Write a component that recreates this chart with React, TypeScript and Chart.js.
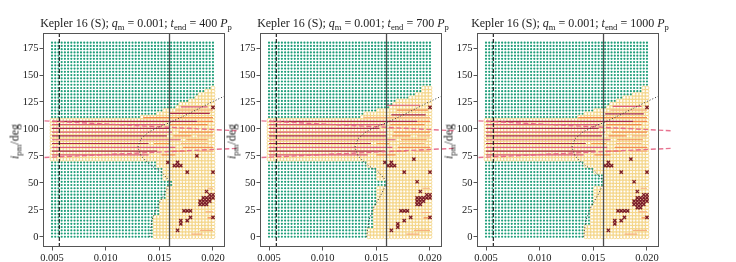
import React, { useEffect, useRef } from "react";
import { Chart, registerables } from "chart.js";
Chart.register(...registerables);

// ---------------- data ----------------
const tEndValues = [400, 700, 1000];
const xTickValues = [0.005, 0.01, 0.015, 0.02];
const yTickValues = [0, 25, 50, 75, 100, 125, 150, 175];
const xRange = [0.00416, 0.02112];
const yRange = [-9.5, 189];

// simulation grid (semi-major axis a_pm, inclination i_pm): [from, to, step]
const gridA = [0.005, 0.02, 0.0003];
const gridI = [0, 180, 3];

// vertical reference lines
const innerLimit = 0.00568;
const outerLimit = 0.01595;

// dotted critical curve
const critCurve = [
  [0.0141, 0], [0.0143, 15], [0.0148, 28], [0.0155, 40], [0.016, 51], [0.0152, 60],
  [0.0141, 67], [0.0133, 75], [0.013, 83], [0.0133, 91], [0.014, 97], [0.015, 102],
  [0.016, 106], [0.0175, 113], [0.019, 120.5], [0.02, 125.5], [0.0211, 130.5],
];

// tilted dashed lines
const tiltedLines = [
  [[0.0043, 107.5], [0.0222, 98.3]],
  [[0.0043, 73.5], [0.0222, 82]],
];

// stable (green) region per inclination band: [i upper bound, largest stable a]
const p1Green = [
  [18, 0.0144], [33, 0.0151], [45, 0.0156], [53, 0.0161], [65, 0.0153], [70, 0.0146], [109, 0],
  [111, 0.0131], [113, 0.0134], [116, 0.0146], [118, 0.0153], [121, 0.0166], [123, 0.0169],
  [126, 0.0176], [128, 0.0179], [131, 0.0183], [133, 0.0186], [136, 0.0191], [139, 0.0198], [181, 1],
];
const p2Green = [
  [8, 0.0141], [28, 0.0148], [45, 0.0151], [53, 0.0158], [65, 0.0151], [70, 0.0141], [109, 0],
  [113, 0.0136], [116, 0.0139], [118, 0.0151], [121, 0.0161], [123, 0.0164], [126, 0.0169],
  [128, 0.0171], [131, 0.0181], [133, 0.0186], [139, 0.0191], [181, 1],
];
const p3Green = [
  [10, 0.0141], [28, 0.0148], [45, 0.0151], [58, 0.0158], [65, 0.0151], [70, 0.0141], [109, 0],
  [111, 0.0134], [113, 0.0136], [116, 0.0141], [118, 0.0151], [121, 0.0161], [123, 0.0166],
  [126, 0.0171], [131, 0.0178], [133, 0.0186], [139, 0.0196], [181, 1],
];

// ejected / collided cases
const p1Cross = [
  [0.02, 120], [0.0185, 75], [0.0158, 69], [0.0167, 69], [0.0164, 66], [0.0167, 66], [0.017, 66],
  [0.0176, 60], [0.02, 60], [0.0194, 42],
  [0.0197, 39], [0.02, 39], [0.0191, 36], [0.0194, 36], [0.0197, 36], [0.02, 36],
  [0.0188, 33], [0.0191, 33], [0.0194, 33], [0.0197, 33], [0.0188, 30], [0.0191, 30], [0.0194, 30],
  [0.0173, 24], [0.0176, 24], [0.0179, 24], [0.0179, 18], [0.02, 18], [0.0176, 15], [0.017, 15], [0.017, 12],
  [0.0167, 6],
];
const p2Cross = [
  [0.02, 120], [0.0185, 72], [0.0158, 69], [0.0164, 69], [0.0161, 66], [0.0164, 66], [0.0167, 66],
  [0.0176, 60], [0.02, 60], [0.0188, 51], [0.0191, 42],
  [0.0197, 39], [0.02, 39], [0.0188, 36], [0.0191, 36], [0.0194, 36], [0.0197, 36], [0.02, 36],
  [0.0188, 33], [0.0191, 33], [0.0194, 33], [0.0188, 30], [0.0191, 30],
  [0.0173, 24], [0.0176, 24], [0.0179, 24], [0.0182, 18], [0.02, 18], [0.0176, 15], [0.017, 12], [0.017, 9],
  [0.0164, 6],
];
const p3Cross = [
  [0.02, 120], [0.0185, 72], [0.0164, 69], [0.0161, 66], [0.0164, 66], [0.0167, 66],
  [0.0176, 60], [0.02, 60], [0.0188, 51], [0.0191, 42],
  [0.0197, 39], [0.02, 39], [0.0191, 36], [0.0194, 36], [0.0197, 36], [0.02, 36],
  [0.0188, 33], [0.0191, 33], [0.0194, 33], [0.0197, 33], [0.02, 33],
  [0.0188, 30], [0.0191, 30], [0.0194, 30], [0.0197, 30], [0.0191, 27], [0.0194, 27],
  [0.0173, 24], [0.0176, 24], [0.0179, 24], [0.0182, 24], [0.0179, 18], [0.02, 18], [0.0176, 15],
  [0.017, 15], [0.017, 12], [0.0164, 6],
];

// horizontal tracks: [i, aFrom, aTo, colour index]
const p1Tracks = [
  [107, 0.005, 0.0185, 0], [107, 0.0185, 0.02, 2],
  [104, 0.005, 0.0155, 1], [104, 0.016, 0.0195, 2],
  [100.5, 0.005, 0.016, 0], [100.5, 0.0165, 0.0185, 3],
  [97, 0.005, 0.0162, 1], [97, 0.0168, 0.02, 2],
  [93.5, 0.005, 0.0157, 0], [93.5, 0.0163, 0.018, 2], [93.5, 0.0185, 0.02, 3],
  [90, 0.005, 0.017, 1], [90, 0.0175, 0.0195, 2],
  [86.5, 0.005, 0.014, 0], [86.5, 0.0145, 0.016, 2], [86.5, 0.017, 0.0195, 3],
  [83, 0.005, 0.0165, 1], [83, 0.0172, 0.02, 2],
  [79.5, 0.005, 0.0148, 0], [79.5, 0.016, 0.0175, 2], [79.5, 0.0185, 0.02, 3],
  [76, 0.005, 0.014, 1], [76, 0.0152, 0.0165, 2],
  [120.5, 0.017, 0.0195, 1], [117.5, 0.0165, 0.02, 3], [114.5, 0.016, 0.0197, 0], [110.5, 0.0135, 0.02, 2],
  [45, 0.0195, 0.02, 3], [23, 0.0193, 0.02, 3], [17.5, 0.0195, 0.02, 2], [6, 0.0188, 0.02, 3], [2.5, 0.018, 0.019, 3],
];
const p2Tracks = [
  [107, 0.005, 0.0188, 0], [107, 0.0188, 0.02, 2],
  [104, 0.005, 0.0158, 1], [104, 0.0163, 0.0195, 2],
  [100.5, 0.005, 0.0153, 0], [100.5, 0.016, 0.019, 3],
  [97, 0.005, 0.016, 1], [97, 0.0166, 0.02, 2],
  [93.5, 0.005, 0.016, 0], [93.5, 0.0165, 0.0182, 2], [93.5, 0.0188, 0.02, 3],
  [90, 0.005, 0.0168, 1], [90, 0.0173, 0.0197, 2],
  [86.5, 0.005, 0.0145, 0], [86.5, 0.015, 0.0162, 2], [86.5, 0.0172, 0.0195, 3],
  [83, 0.005, 0.0165, 1], [83, 0.017, 0.02, 2],
  [79.5, 0.005, 0.0158, 0], [79.5, 0.0163, 0.0178, 2], [79.5, 0.0185, 0.02, 3],
  [76, 0.005, 0.0142, 1], [76, 0.015, 0.0168, 2],
  [122, 0.016, 0.0191, 1], [117.5, 0.0169, 0.0198, 2], [113, 0.0164, 0.0196, 0], [110.5, 0.0138, 0.02, 3],
  [45, 0.0193, 0.02, 3], [22.5, 0.0192, 0.02, 3], [17.5, 0.0194, 0.02, 2], [6, 0.0185, 0.02, 3], [2.5, 0.0178, 0.019, 3],
];
const p3Tracks = [
  [107, 0.005, 0.0187, 0], [107, 0.0187, 0.02, 2],
  [104, 0.005, 0.0156, 1], [104, 0.0162, 0.0195, 2],
  [100.5, 0.005, 0.0155, 0], [100.5, 0.0162, 0.0188, 3],
  [97, 0.005, 0.0161, 1], [97, 0.0167, 0.02, 2],
  [93.5, 0.005, 0.0158, 0], [93.5, 0.0164, 0.0181, 2], [93.5, 0.0186, 0.02, 3],
  [90, 0.005, 0.0166, 1], [90, 0.0172, 0.0196, 2],
  [86.5, 0.005, 0.0143, 0], [86.5, 0.0148, 0.0162, 2], [86.5, 0.0171, 0.0195, 3],
  [83, 0.005, 0.0163, 1], [83, 0.017, 0.02, 2],
  [79.5, 0.005, 0.0152, 0], [79.5, 0.0161, 0.0176, 2], [79.5, 0.0184, 0.02, 3],
  [76, 0.005, 0.0141, 1], [76, 0.0151, 0.0166, 2],
  [121, 0.0168, 0.0195, 1], [117.5, 0.0166, 0.02, 3], [114, 0.0161, 0.0197, 0], [110.5, 0.0136, 0.02, 2],
  [45, 0.0194, 0.02, 3], [23, 0.0192, 0.02, 3], [17.5, 0.0195, 0.02, 2], [6, 0.0187, 0.02, 3], [2.5, 0.0179, 0.0191, 3],
];

const panels = [
  { tEnd: tEndValues[0], green: p1Green, cross: p1Cross, tracks: p1Tracks },
  { tEnd: tEndValues[1], green: p2Green, cross: p2Cross, tracks: p2Tracks },
  { tEnd: tEndValues[2], green: p3Green, cross: p3Cross, tracks: p3Tracks },
];

// ---------------- style / layout ----------------
const FONT = "'Liberation Serif', 'DejaVu Serif', serif";
const FRAME_LEFT = [43, 260, 477];
const FRAME_W = 182;
const FRAME_TOP = 33;
const FRAME_BOTTOM = 247;
const AXIS_W = 30;
const RIGHT_PAD = 14;
const H = 262;
const COL_GREEN = "#1f9e7a";
const COL_YELLOW = "rgba(242, 208, 120, 0.9)";
const COL_CROSS = "#7a1b2b";
const TRACK_COLS = ["#a8284e", "#dc5a78", "#f28a4f", "#f6b07e"];
const COL_TILT = "rgba(228, 100, 132, 0.9)";
const COL_FRAME = "#555";

function buildGrid(edges) {
  const stable = [];
  const unstable = [];
  const nx = Math.round((gridA[1] - gridA[0]) / gridA[2]);
  const ny = Math.round((gridI[1] - gridI[0]) / gridI[2]);
  for (let j = 0; j <= ny; j++) {
    const y = gridI[0] + j * gridI[2];
    const r = edges.find((e) => y <= e[0] + 1e-9);
    const lim = r ? r[1] : 1;
    for (let i = 0; i <= nx; i++) {
      const x = gridA[0] + i * gridA[2];
      (x <= lim + 1e-9 ? stable : unstable).push({ x, y });
    }
  }
  return { stable, unstable };
}

function trackData(tracks, c) {
  const out = [];
  tracks.filter((t) => t[3] === c).forEach((t) => {
    out.push({ x: t[1], y: t[0] }, { x: t[2], y: t[0] }, { x: t[2], y: NaN });
  });
  return out;
}

const framePlugin = {
  id: "frame",
  afterDraw(chart) {
    const { ctx, chartArea: a } = chart;
    ctx.save();
    ctx.strokeStyle = COL_FRAME;
    ctx.lineWidth = 1;
    ctx.strokeRect(Math.round(a.left) + 0.5, Math.round(a.top) + 0.5, Math.round(a.right - a.left) - 1, Math.round(a.bottom - a.top) - 1);
    ctx.restore();
  },
};

function Panel({ idx }) {
  const ref = useRef(null);
  const p = panels[idx];
  useEffect(() => {
    const { stable, unstable } = buildGrid(p.green);
    const lineDs = (data, color, width, dash, extra = {}) => ({
      type: "line",
      data,
      borderColor: color,
      borderWidth: width,
      borderDash: dash,
      pointRadius: 0,
      fill: false,
      tension: 0,
      spanGaps: false,
      ...extra,
    });
    const datasets = [
      lineDs([{ x: outerLimit, y: yRange[0] }, { x: outerLimit, y: yRange[1] }], "#4d4d4d", 1.3, []),
      lineDs([{ x: innerLimit, y: yRange[0] }, { x: innerLimit, y: yRange[1] }], "#111", 1.1, [4, 2]),
      lineDs(critCurve.map(([x, y]) => ({ x, y })), "#333", 1, [1, 2]),
      {
        type: "scatter",
        data: p.cross.map(([x, y]) => ({ x, y })),
        pointStyle: "crossRot",
        pointRadius: 2.3,
        borderColor: COL_CROSS,
        backgroundColor: COL_CROSS,
        borderWidth: 1.3,
      },
      ...tiltedLines.map((l) =>
        lineDs(l.map(([x, y]) => ({ x, y })), COL_TILT, 1.4, [5, 2.5], { clip: false })
      ),
      lineDs(trackData(p.tracks, 0), TRACK_COLS[0], 1.2, []),
      lineDs(trackData(p.tracks, 1), TRACK_COLS[1], 1.2, []),
      lineDs(trackData(p.tracks, 2), TRACK_COLS[2], 1.2, []),
      lineDs(trackData(p.tracks, 3), TRACK_COLS[3], 1.2, []),
      {
        type: "scatter",
        data: unstable,
        pointStyle: "circle",
        pointRadius: 1.95,
        backgroundColor: "rgba(0,0,0,0)",
        borderColor: COL_YELLOW,
        borderWidth: 0.8,
      },
      {
        type: "scatter",
        data: stable,
        pointStyle: "circle",
        pointRadius: 1.1,
        backgroundColor: COL_GREEN,
        borderWidth: 0,
      },
    ];
    const tickFont = { family: FONT, size: 10.5 };
    const chart = new Chart(ref.current, {
      type: "scatter",
      data: { datasets },
      plugins: [framePlugin],
      options: {
        responsive: false,
        animation: false,
        events: [],
        devicePixelRatio: 1,
        layout: { padding: { top: FRAME_TOP, right: RIGHT_PAD, left: 0, bottom: 0 } },
        plugins: { legend: { display: false }, tooltip: { enabled: false }, title: { display: false } },
        scales: {
          x: {
            type: "linear",
            min: xRange[0],
            max: xRange[1],
            afterBuildTicks: (s) => { s.ticks = xTickValues.map((v) => ({ value: v })); },
            afterFit: (s) => { s.height = H - FRAME_BOTTOM; },
            ticks: { callback: (v) => Number(v).toFixed(3), font: tickFont, color: "#222", maxRotation: 0, autoSkip: false, padding: 1 },
            grid: { display: true, drawOnChartArea: false, drawTicks: true, tickLength: 3.5, color: COL_FRAME },
            border: { display: false },
          },
          y: {
            type: "linear",
            min: yRange[0],
            max: yRange[1],
            afterBuildTicks: (s) => { s.ticks = yTickValues.map((v) => ({ value: v })); },
            afterFit: (s) => { s.width = AXIS_W; },
            ticks: { callback: (v) => String(v), font: tickFont, color: "#222", padding: 1 },
            grid: { display: true, drawOnChartArea: false, drawTicks: true, tickLength: 3.5, color: COL_FRAME },
            border: { display: false },
          },
        },
      },
    });
    return () => chart.destroy();
  }, [idx]);
  const fl = FRAME_LEFT[idx];
  const w = AXIS_W + FRAME_W + RIGHT_PAD;
  const sub = (t) => (
    <span style={{ fontSize: "0.72em", position: "relative", top: "0.3em" }}>{t}</span>
  );
  return (
    <>
      <canvas
        ref={ref}
        width={w}
        height={H}
        style={{ position: "absolute", left: fl - AXIS_W, top: 0, width: w, height: H }}
      />
      <div
        style={{
          position: "absolute", left: fl + FRAME_W / 2 - 150 + 2, width: 300, top: 16,
          textAlign: "center", fontFamily: FONT, fontSize: 12, color: "#222", whiteSpace: "nowrap", lineHeight: "14px",
        }}
      >
        Kepler 16 (S); <i>q</i>{sub("m")} = 0.001; <i>t</i>{sub("end")} = {p.tEnd} <i>P</i>{sub("p")}
      </div>
      <div
        style={{
          position: "absolute", left: fl - 28 - 50, width: 100, top: 141 - 7, textAlign: "center",
          transform: "rotate(-90deg)", fontFamily: FONT, fontSize: 12, color: "#222", whiteSpace: "nowrap", lineHeight: "14px",
        }}
      >
        <i>i</i>{sub("pm")}/deg
      </div>
    </>
  );
}

export default function App() {
  return (
    <div style={{ position: "fixed", left: 0, top: 0, width: 736, height: H, background: "#fff", overflow: "hidden" }}>
      <Panel idx={0} />
      <Panel idx={1} />
      <Panel idx={2} />
    </div>
  );
}
